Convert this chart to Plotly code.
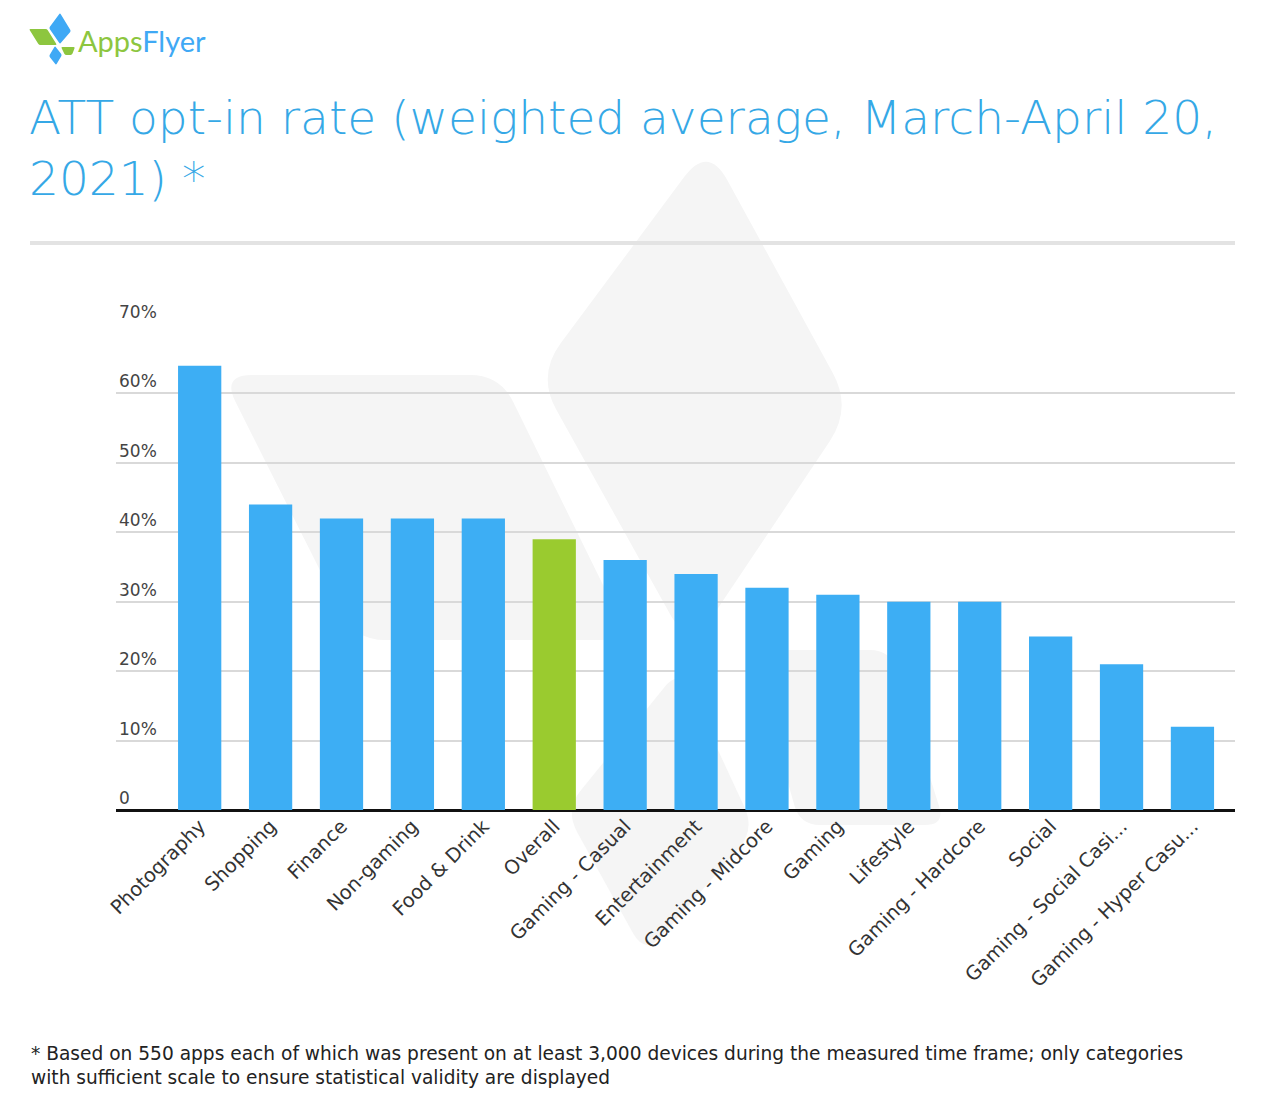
import math
import plotly.graph_objects as go

categories = ["Photography", "Shopping", "Finance", "Non-gaming", "Food & Drink", "Overall",
              "Gaming - Casual", "Entertainment", "Gaming - Midcore", "Gaming", "Lifestyle",
              "Gaming - Hardcore", "Social", "Gaming - Social Casi...", "Gaming - Hyper Casu..."]
opt_in_rate = [64, 44, 42, 42, 42, 39, 36, 34, 32, 31, 30, 30, 25, 21, 12]
tick_values = [0, 10, 20, 30, 40, 50, 60, 70]
tick_labels = ["0", "10%", "20%", "30%", "40%", "50%", "60%", "70%"]

BLUE = "#3daef4"
GREEN = "#9acb2f"
TITLE_BLUE = "#35a8e6"
WM = "#f5f5f5"
FONT = "DejaVu Sans"

W, H = 1280, 1105
ML, MR, MT, MB = 116, 45, 324, 295
PW, PH = W - ML - MR, H - MT - MB


def px(x):
    return (x - ML) / PW


def py(y):
    return (H - MB - y) / PH


def rounded_path(pts, r):
    n = len(pts)
    segs = []
    for i in range(n):
        p0 = pts[i - 1]
        p1 = pts[i]
        p2 = pts[(i + 1) % n]
        d1 = math.hypot(p1[0] - p0[0], p1[1] - p0[1])
        d2 = math.hypot(p2[0] - p1[0], p2[1] - p1[1])
        a = (p1[0] + (p0[0] - p1[0]) * r / d1, p1[1] + (p0[1] - p1[1]) * r / d1)
        b = (p1[0] + (p2[0] - p1[0]) * r / d2, p1[1] + (p2[1] - p1[1]) * r / d2)
        segs.append((a, p1, b))
    path = "M %.5f,%.5f " % (px(segs[0][0][0]), py(segs[0][0][1]))
    for k, (a, c, b) in enumerate(segs):
        if k > 0:
            path += "L %.5f,%.5f " % (px(a[0]), py(a[1]))
        path += "Q %.5f,%.5f %.5f,%.5f " % (px(c[0]), py(c[1]), px(b[0]), py(b[1]))
    return path + "Z"


colors = [GREEN if c == "Overall" else BLUE for c in categories]

fig = go.Figure(go.Bar(x=categories, y=opt_in_rate, marker=dict(color=colors, line=dict(width=0)),
                       hoverinfo="x+y"))

shapes = []
# watermark (faint logo shapes)
for pts, r in [
    ([(708, 145), (852, 408), (690, 650), (537, 375)], 40),
    ([(222, 375), (500, 375), (630, 640), (355, 640)], 30),
    ([(680, 668), (755, 830), (645, 955), (565, 810)], 25),
    ([(750, 650), (890, 650), (945, 825), (800, 825)], 20),
]:
    shapes.append(dict(type="path", xref="paper", yref="paper", path=rounded_path(pts, r),
                       fillcolor=WM, line=dict(width=0), layer="below"))

# separator line under title
shapes.append(dict(type="line", xref="paper", yref="paper", x0=px(30), x1=px(1235), y0=py(243), y1=py(243),
                   line=dict(color="#e3e3e3", width=4)))

# logo marks
for pts, col in [
    ([(29, 29), (47, 29), (57, 45), (39, 45)], "#8dc63f"),
    ([(60, 13), (71, 31), (60, 44), (49, 28)], "#3fa9f5"),
    ([(55, 46), (62, 55), (56, 65), (49, 56)], "#3fa9f5"),
    ([(61, 47), (75, 47), (72, 55), (65, 55)], "#8dc63f"),
]:
    shapes.append(dict(type="path", xref="paper", yref="paper", path=rounded_path(pts, 1.5),
                       fillcolor=col, line=dict(width=0)))

annotations = [
    dict(text="<span style='color:#8dc63f'>Apps</span><span style='color:#3fa9f5'>Flyer</span>",
         xref="paper", yref="paper", x=px(76), y=py(40), xanchor="left", yanchor="middle",
         showarrow=False, font=dict(family="Lato", size=29)),
    dict(text="ATT opt-in rate (weighted average, March-April 20,<br>2021) *",
         xref="paper", yref="paper", x=px(27), y=py(88), xanchor="left", yanchor="top", align="left",
         showarrow=False, font=dict(family=FONT, size=47, color=TITLE_BLUE, weight=300)),
    dict(text="* Based on 550 apps each of which was present on at least 3,000 devices during the measured time frame; only categories<br>with sufficient scale to ensure statistical validity are displayed",
         xref="paper", yref="paper", x=px(29), y=py(1041), xanchor="left", yanchor="top", align="left",
         showarrow=False, font=dict(family=FONT, size=18.6, color="#222222")),
]

fig.update_layout(
    width=W, height=H,
    margin=dict(l=ML, r=MR, t=MT, b=MB),
    paper_bgcolor="white", plot_bgcolor="rgba(0,0,0,0)",
    showlegend=False,
    bargap=0.39,
    shapes=shapes,
    annotations=annotations,
    font=dict(family=FONT, color="#333333"),
    xaxis=dict(range=[-1.18, 14.6], tickangle=-45, tickfont=dict(size=19.5, color="#333333"),
               showgrid=False, showline=False, ticks="", fixedrange=True),
    yaxis=dict(range=[0, 70], tickvals=tick_values, ticktext=tick_labels,
               ticklabelposition="inside top", ticklabeloverflow="allow",
               tickfont=dict(size=17, color="#444444"),
               showgrid=True, gridcolor="#d9d9d9", gridwidth=1.5,
               zeroline=True, zerolinecolor="#111111", zerolinewidth=3,
               showline=False, ticks="", fixedrange=True),
)

fig.write_html("out.html", config={"displayModeBar": False},
               post_script="document.body.style.margin='0';")
